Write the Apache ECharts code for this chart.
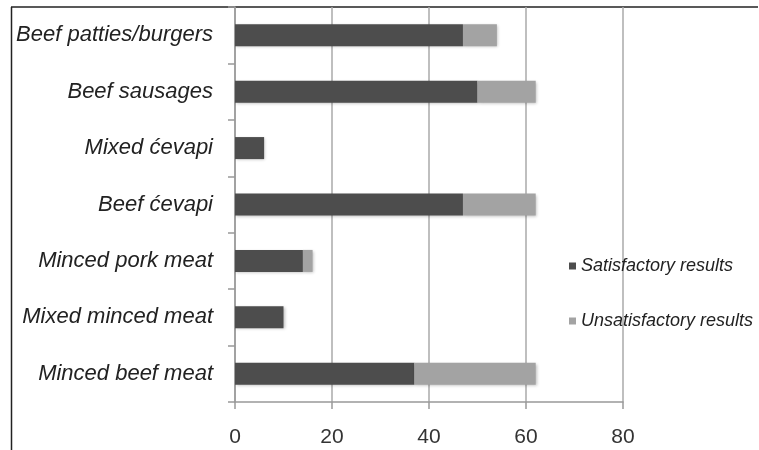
<!DOCTYPE html>
<html>
<head>
<meta charset="utf-8">
<script src="https://cdn.jsdelivr.net/npm/echarts@6/dist/echarts.min.js"></script>
<style>html,body{margin:0;padding:0;background:#fff;overflow:hidden}#c{width:759px;height:450px}</style>
</head>
<body>
<div id="c"></div>
<script>
const categories = ['Minced beef meat','Mixed minced meat','Minced pork meat','Beef ćevapi','Mixed ćevapi','Beef sausages','Beef patties/burgers'];
const satisfactory = [37, 10, 14, 47, 6, 50, 47];
const unsatisfactory = [25, 0, 2, 15, 0, 12, 7];
const xTicks = [0, 20, 40, 60, 80];

const chart = echarts.init(document.getElementById('c'), null, {renderer:'canvas'});
const font = "'Liberation Sans', Arial, sans-serif";
chart.setOption({
  animation: false,
  backgroundColor: '#fff',
  grid: {left: 235, right: 136, top: 7, bottom: 48, containLabel: false},
  legend: {
    orient: 'vertical', left: 564, top: 252, itemGap: 37,
    itemWidth: 7, itemHeight: 7, icon: 'rect',
    textStyle: {fontFamily: font, fontStyle: 'italic', fontSize: 18, color: '#222'},
    data: ['Satisfactory results', 'Unsatisfactory results']
  },
  xAxis: {
    type: 'value', min: xTicks[0], max: xTicks[xTicks.length-1], interval: 20,
    axisLine: {show: true, lineStyle: {color: '#999', width: 1.5}},
    axisTick: {show: true, length: 7, lineStyle: {color: '#999', width: 1.5}},
    axisLabel: {fontFamily: font, fontSize: 21, color: '#333', margin: 25},
    splitLine: {show: true, lineStyle: {color: '#aaa', width: 1.5}}
  },
  yAxis: {
    type: 'category', data: categories,
    axisLine: {show: true, lineStyle: {color: '#999', width: 1.5}},
    axisTick: {show: true, length: 7, lineStyle: {color: '#999', width: 1.5}},
    axisLabel: {fontFamily: font, fontStyle: 'italic', fontSize: 22, color: '#222', margin: 22}
  },
  series: [
    {name: 'Satisfactory results', type: 'bar', stack: 't', data: satisfactory, barWidth: 22,
     itemStyle: {color: '#4d4d4d', shadowColor: 'rgba(0,0,0,0.25)', shadowBlur: 3, shadowOffsetX: 1, shadowOffsetY: 1}},
    {name: 'Unsatisfactory results', type: 'bar', stack: 't', data: unsatisfactory, barWidth: 22,
     itemStyle: {color: '#a3a3a3', shadowColor: 'rgba(0,0,0,0.25)', shadowBlur: 3, shadowOffsetX: 1, shadowOffsetY: 1}}
  ],
  graphic: [
    {type: 'line', shape: {x1: 11, y1: 7, x2: 758, y2: 7}, style: {stroke: '#222', lineWidth: 1.5}, silent: true},
    {type: 'line', shape: {x1: 11.5, y1: 7, x2: 11.5, y2: 450}, style: {stroke: '#222', lineWidth: 1.5}, silent: true}
  ]
});
</script>
</body>
</html>
